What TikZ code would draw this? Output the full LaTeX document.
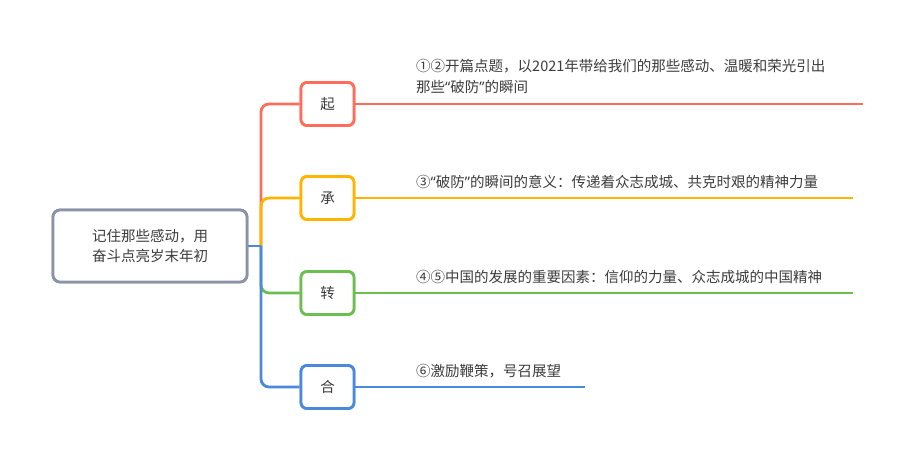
\documentclass[tikz,border=0pt]{standalone}
\usepackage{fontspec}
\setmainfont{Noto Sans CJK SC}
\newfontfamily\latinq{Noto Sans}
\newcommand{\myoq}{{\latinq “}}
\newcommand{\mycq}{{\latinq ”}}
\definecolor{cred}{RGB}{255,108,90}
\definecolor{corange}{RGB}{255,180,0}
\definecolor{cgreen}{RGB}{108,190,80}
\definecolor{cblue}{RGB}{74,137,220}
\definecolor{cgray}{RGB}{138,148,166}
\definecolor{ctext}{RGB}{60,60,60}
\begin{document}
\begin{tikzpicture}[x=1pt,y=1pt,
  rootbox/.style={draw=cgray,line width=2.8pt,rounded corners=7pt,fill=white,minimum width=194pt,minimum height=72pt,align=center,text=ctext,font=\fontsize{14.5}{20}\selectfont,inner sep=0pt},
  branchbox/.style={draw=#1,line width=2.8pt,rounded corners=6pt,fill=white,minimum width=53pt,minimum height=43pt,text=ctext,font=\fontsize{14.5}{16}\selectfont,inner sep=0pt},
  conn/.style={draw=#1,line width=2.8pt},
  hline/.style={draw=#1,line width=2.8pt},
  note/.style={anchor=south west,align=left,text=ctext,font=\fontsize{14.5}{21}\selectfont,inner sep=0pt}]
\useasboundingbox (0,0) rectangle (913,460);
\node[rootbox] (root) at (150,214) {记住那些感动，用\\奋斗点亮岁末年初};
\coordinate (fork) at (261,214);
\node[branchbox=cred] (b1) at (327.5,356) {起};
\node[branchbox=corange] (b2) at (327.5,262) {承};
\node[branchbox=cgreen] (b3) at (327.5,167) {转};
\node[branchbox=cblue] (b4) at (327.5,73) {合};
\coordinate (e1) at (863,356);
\coordinate (e2) at (853,262);
\coordinate (e3) at (853,167);
\coordinate (e4) at (585,73);
\draw[conn=cred,rounded corners=8pt] (fork) |- (b1.west);
\draw[conn=corange,rounded corners=8pt] (fork) |- (b2.west);
\draw[conn=cgreen,rounded corners=8pt] (fork) |- (b3.west);
\draw[conn=cblue,rounded corners=8pt] (fork) |- (b4.west);
\draw[conn=cblue] (root.east) -- (fork);
\node[rootbox] at (root) {记住那些感动，用\\奋斗点亮岁末年初};
\node[branchbox=cred] at (b1) {起};
\node[branchbox=corange] at (b2) {承};
\node[branchbox=cgreen] at (b3) {转};
\node[branchbox=cblue] at (b4) {合};
\draw[hline=cred] (b1.east) -- (e1);
\draw[hline=corange] (b2.east) -- (e2);
\draw[hline=cgreen] (b3.east) -- (e3);
\draw[hline=cblue] (b4.east) -- (e4);
\node[note] (t1) at (416,366) {①②开篇点题，以2021年带给我们的那些感动、温暖和荣光引出\\那些\myoq 破防\mycq 的瞬间};
\node[note] (t2) at (416,271) {③\myoq 破防\mycq 的瞬间的意义：传递着众志成城、共克时艰的精神力量};
\node[note] (t3) at (416,176) {④⑤中国的发展的重要因素：信仰的力量、众志成城的中国精神};
\node[note] (t4) at (416,82) {⑥激励鞭策，号召展望};
\end{tikzpicture}
\end{document}
